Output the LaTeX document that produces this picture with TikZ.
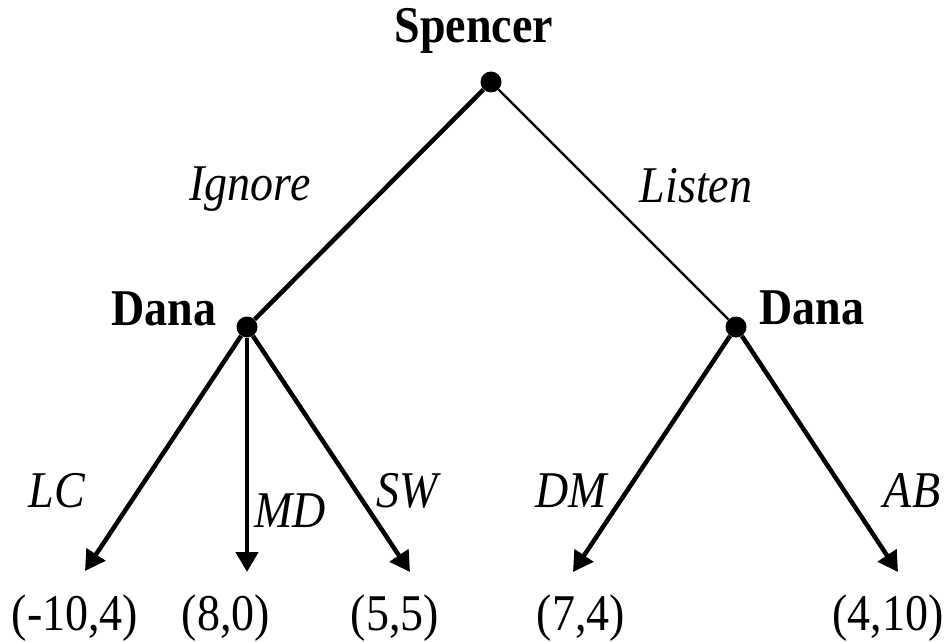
\documentclass[tikz,border=0pt]{standalone}
\usepackage{fontspec}
\setmainfont{Liberation Serif}
\usetikzlibrary{arrows.meta}
\tikzset{
  txt/.style={anchor=base, inner sep=0pt, yscale=1.12, font=\fontsize{46}{50}\selectfont},
  player/.style={txt, font=\fontsize{46}{50}\selectfont\bfseries},
  act/.style={txt, font=\fontsize{46}{50}\selectfont\itshape},
  dot/.style={circle, fill=black, inner sep=0pt, minimum size=21pt},
  thickedge/.style={line width=4.5pt},
  thinedge/.style={line width=2.2pt},
  arr/.style={line width=4.5pt, -{Triangle[length=20pt, width=22pt]}},
}
\begin{document}
\begin{tikzpicture}[x=1pt, y=-1pt]
\useasboundingbox (0,0) rectangle (950,642);
% decision nodes
\node[dot] (s) at (491,82) {};
\node[dot] (d1) at (247,327) {};
\node[dot] (d2) at (736,327) {};
% terminal points
\coordinate (t1) at (85,571);
\coordinate (t2) at (247,572);
\coordinate (t3) at (410,572);
\coordinate (t4) at (573,572);
\coordinate (t5) at (898,572);
% edges
\draw[thickedge] (s) -- (d1);
\draw[thinedge] (s) -- (d2);
\draw[arr] (d1) -- (t1);
\draw[arr] (d1) -- (t2);
\draw[arr] (d1) -- (t3);
\draw[arr] (d2) -- (t4);
\draw[arr] (d2) -- (t5);
% player labels
\node[player] (ls) at (474,43) {Spencer};
\node[player] (ld1) at (164,325) {Dana};
\node[player] (ld2) at (812,324) {Dana};
% action labels
\node[act] (lig) at (250,200) {Ignore};
\node[act] (lli) at (696,202) {Listen};
\node[act] (llc) at (57,507) {LC};
\node[act] (lmd) at (290,527) {MD};
\node[act] (lsw) at (407,507) {SW};
\node[act] (ldm) at (571,507) {DM};
\node[act] (lab) at (912,507) {AB};
% payoffs
\node[txt] (p1) at (75,630) {(-10,4)};
\node[txt] (p2) at (226,630) {(8,0)};
\node[txt] (p3) at (395,630) {(5,5)};
\node[txt] (p4) at (581,630) {(7,4)};
\node[txt] (p5) at (888,630) {(4,10)};
\end{tikzpicture}
\end{document}
